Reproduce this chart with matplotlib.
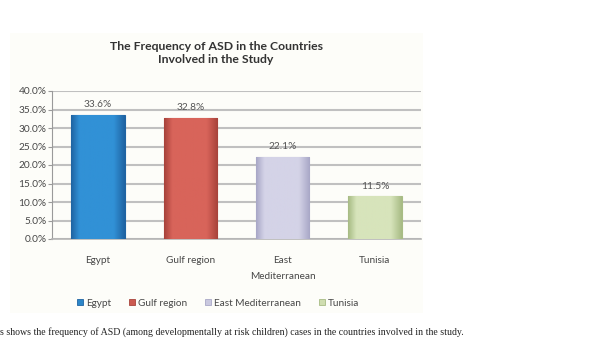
import numpy as np
import matplotlib
matplotlib.use("Agg")
import matplotlib.pyplot as plt
from matplotlib.patches import Rectangle, Patch
from matplotlib.colors import LinearSegmentedColormap
from matplotlib.ticker import PercentFormatter

# Frequency of ASD per region (%)
regions = ["Egypt", "Gulf region", "East Mediterranean", "Tunisia"]
tick_labels = ["Egypt", "Gulf region", "East\nMediterranean", "Tunisia"]
freq = [33.6, 32.8, 22.1, 11.5]

# edge / centre shades for the bevelled bars
dark = ["#1f64a3", "#a8433b", "#a9a8c7", "#a8bc85"]
light = ["#3191d6", "#d8645a", "#d4d3e7", "#d7e4bb"]
solid = ["#2c86c8", "#cc5a50", "#c9c8df", "#cfddb0"]

plt.rcParams["font.family"] = ["Lato", "DejaVu Sans"]
txt = "#474747"

fig = plt.figure(figsize=(6.1, 3.52), dpi=100)
fig.patch.set_facecolor("white")

# pale chart panel behind everything
fig.patches.append(Rectangle((10 / 610, 39 / 352), 413 / 610, 280 / 352,
                             transform=fig.transFigure, facecolor="#fdfdf9",
                             edgecolor="none", zorder=-5))

ax = fig.add_axes([52 / 610, 113 / 352, 369 / 610, 148 / 352])
ax.set_facecolor("none")

x = np.arange(len(freq))
bars = ax.bar(x, freq, width=0.58, color=solid, edgecolor=dark, linewidth=0.8, zorder=3)

grad = np.linspace(0, 1, 64).reshape(1, -1)
for b, d, l in zip(bars, dark, light):
    cm = LinearSegmentedColormap.from_list("bev", [(0, d), (0.15, l), (0.8, l), (1, d)])
    im = ax.imshow(grad, extent=[b.get_x(), b.get_x() + b.get_width(), 0, b.get_height()],
                   aspect="auto", cmap=cm, zorder=3.5)
    im.set_clip_path(b)

for xi, v in zip(x, freq):
    ax.text(xi, v + 1.6, f"{v:.1f}%", ha="center", va="bottom", fontsize=7.3, color="#555555")

ax.set_xlim(-0.5, 3.5)
ax.set_ylim(0, 40)
ax.set_yticks(np.arange(0, 41, 5))
ax.yaxis.set_major_formatter(PercentFormatter(decimals=1))
ax.grid(axis="y", color="#c0c0c0", linewidth=1.5, zorder=1)
ax.set_axisbelow(True)

ax.set_xticks(x)
ax.set_xticklabels(tick_labels, linespacing=2.0)
ax.tick_params(axis="x", length=0, pad=12, labelsize=7.2, labelcolor=txt)
ax.tick_params(axis="y", length=3, width=0.8, color="#9a9a9a", pad=1, labelsize=7.3, labelcolor=txt)

for s in ["top", "right"]:
    ax.spines[s].set_visible(False)
ax.spines["left"].set_color("#9a9a9a")
ax.spines["bottom"].set_color("#b5b5b5")
ax.spines["bottom"].set_linewidth(1.2)

fig.text(216 / 610, (352 - 53) / 352, "The Frequency of ASD in the Countries\nInvolved in the Study",
         ha="center", va="center", fontsize=8.8, fontweight="bold", color="#333333",
         linespacing=1.25)

handles = [Patch(facecolor=c, edgecolor=d, linewidth=0.6) for c, d in zip(solid, dark)]
fig.legend(handles, regions, loc="center", bbox_to_anchor=(218 / 610, (352 - 303) / 352),
           ncol=4, frameon=False, fontsize=7.2, labelcolor=txt, handlelength=0.6,
           handleheight=0.6, handletextpad=0.3, columnspacing=1.8)

fig.text(0, (352 - 332) / 352,
         "s shows the frequency of ASD (among developmentally at risk children) cases in the countries involved in the study.",
         ha="left", va="center", fontsize=7.15, family="Liberation Serif", color="#222222")

fig.savefig("out.png", dpi=100)
